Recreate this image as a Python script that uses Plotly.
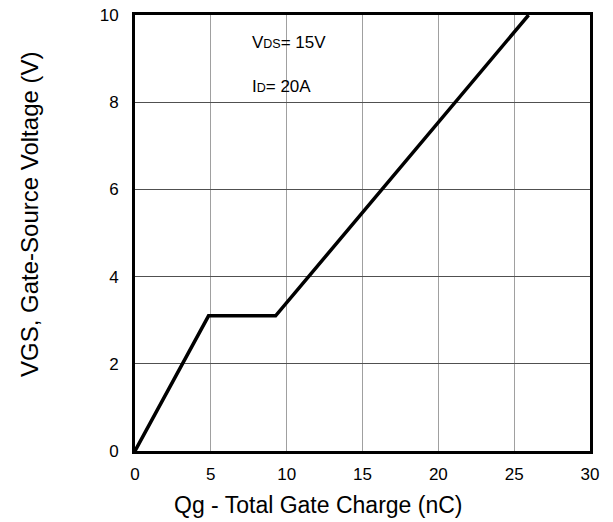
import plotly.graph_objects as go

qg = [0, 4.85, 9.27, 25.95]
vgs = [0, 3.1, 3.1, 10]
x_ticks = [0, 5, 10, 15, 20, 25, 30]
y_ticks = [0, 2, 4, 6, 8, 10]

FONT = "Liberation Sans, Arial, sans-serif"
W, H = 613, 522
ML, MR, MT, MB = 135, 23, 15, 71

fig = go.Figure()
fig.add_trace(go.Scatter(x=qg, y=vgs, mode="lines",
                         line=dict(color="black", width=3.5), showlegend=False,
                         hoverinfo="skip"))

# condition annotations
fig.add_annotation(x=7.6, y=9.36, xref="x", yref="y", xanchor="left", yanchor="middle",
                   showarrow=False,
                   text='V<span style="font-size:12.5px">DS</span>= 15V',
                   font=dict(family=FONT, size=17, color="black"))
fig.add_annotation(x=7.6, y=8.37, xref="x", yref="y", xanchor="left", yanchor="middle",
                   showarrow=False,
                   text='I<span style="font-size:12.5px">D</span>= 20A',
                   font=dict(family=FONT, size=17, color="black"))

# axis titles as annotations (paper coords from pixel positions)
pw, ph = W - ML - MR, H - MT - MB
def px_to_paper_x(px):
    return (px - ML) / pw
def px_to_paper_y(py):
    return (H - MB - py) / ph

fig.add_annotation(x=px_to_paper_x(318), y=px_to_paper_y(505), xref="paper", yref="paper",
                   xanchor="center", yanchor="middle", showarrow=False,
                   text="Qg - Total Gate Charge (nC)",
                   font=dict(family=FONT, size=23, color="black"))
fig.add_annotation(x=px_to_paper_x(29), y=px_to_paper_y(214), xref="paper", yref="paper",
                   xanchor="center", yanchor="middle", showarrow=False, textangle=-90,
                   text="VGS, Gate-Source Voltage (V)",
                   font=dict(family=FONT, size=24, color="black"))

fig.update_layout(
    width=W, height=H,
    margin=dict(l=ML, r=MR, t=MT, b=MB, pad=0),
    plot_bgcolor="white", paper_bgcolor="white",
    font=dict(family=FONT, size=17, color="black"),
    xaxis=dict(range=[0, 30], tickvals=x_ticks, ticktext=[str(v) for v in x_ticks],
               showgrid=True, gridcolor="#a0a0a0", gridwidth=1,
               showline=True, linecolor="black", linewidth=3, mirror=True,
               zeroline=False, ticks="outside", ticklen=6, tickcolor="rgba(0,0,0,0)",
               automargin=False),
    yaxis=dict(range=[0, 10], tickvals=y_ticks, ticktext=[str(v) for v in y_ticks],
               showgrid=True, gridcolor="#505050", gridwidth=1,
               showline=True, linecolor="black", linewidth=3, mirror=True,
               zeroline=False, ticks="outside", ticklen=10, tickcolor="rgba(0,0,0,0)",
               automargin=False),
)
fig.write_html("out.html", config={"displayModeBar": False},
               post_script="document.body.style.margin='0px';")
